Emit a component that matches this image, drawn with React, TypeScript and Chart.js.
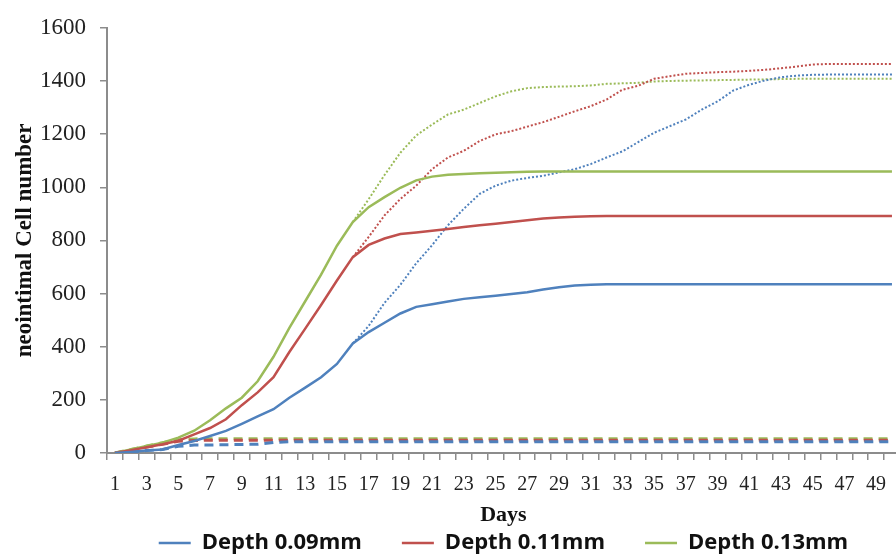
import React, { useEffect, useRef } from 'react';
import { Chart, registerables } from 'chart.js';

Chart.register(...registerables);

const days = ['1','2','3','4','5','6','7','8','9','10','11','12','13','14','15','16','17','18','19','20','21','22','23','24','25','26','27','28','29','30','31','32','33','34','35','36','37','38','39','40','41','42','43','44','45','46','47','48','49','50'];

const seriesNames = ['Depth 0.09mm', 'Depth 0.11mm', 'Depth 0.13mm'];

// solid lines
const solid009 = [0,4,9,13,30,45,64,83,110,138,165,208,246,285,335,412,455,490,525,550,560,570,580,586,592,598,605,615,624,630,633,635,635,635,635,635,635,635,635,635,635,635,635,635,635,635,635,635,635,635];
const solid011 = [0,10,22,33,46,70,94,127,180,228,285,380,468,557,649,737,783,807,824,830,836,843,850,857,863,869,876,882,886,889,891,892,892,892,892,892,892,892,892,892,892,892,892,892,892,892,892,892,892,892];
const solid013 = [0,13,26,39,58,84,123,168,208,270,362,471,571,671,780,869,925,963,998,1026,1040,1047,1050,1053,1055,1056,1058,1059,1059,1059,1059,1059,1059,1059,1059,1059,1059,1059,1059,1059,1059,1059,1059,1059,1059,1059,1059,1059,1059,1059];

// dotted lines (branch off at day 16)
const dotted009 = [null,null,null,null,null,null,null,null,null,null,null,null,null,null,null,412,478,565,633,714,782,857,919,975,1006,1025,1035,1043,1056,1068,1087,1112,1135,1170,1205,1230,1255,1292,1323,1364,1386,1402,1414,1420,1423,1424,1424,1424,1424,1424];
const dotted011 = [null,null,null,null,null,null,null,null,null,null,null,null,null,null,null,737,813,894,956,1006,1068,1112,1137,1174,1199,1211,1228,1245,1265,1286,1305,1330,1367,1382,1408,1418,1427,1430,1433,1435,1438,1442,1448,1454,1462,1464,1464,1464,1464,1464];
const dotted013 = [null,null,null,null,null,null,null,null,null,null,null,null,null,null,null,869,955,1046,1130,1195,1236,1274,1292,1317,1342,1361,1373,1377,1379,1380,1383,1389,1391,1393,1398,1400,1401,1402,1403,1404,1405,1406,1407,1408,1408,1408,1408,1408,1408,1408];

// dashed lines (low plateau)
const dashed009 = [0,4,9,13,25,30,30,31,32,33,40,42,42,42,42,42,42,42,42,42,42,42,42,42,42,42,42,42,42,42,42,42,42,42,42,42,42,42,42,42,42,42,42,42,42,42,42,42,42,42];
const dashed011 = [0,10,22,33,44,47,48,48,48,48,48,48,48,48,48,48,48,48,48,48,48,48,48,48,48,48,48,48,48,48,48,48,48,48,48,48,48,48,48,48,48,48,48,48,48,48,48,48,48,48];
const dashed013 = [0,13,26,39,50,53,54,54,54,54,54,54,54,54,54,54,54,54,54,54,54,54,54,54,54,54,54,54,54,54,54,54,54,54,54,54,54,54,54,54,54,54,54,54,54,54,54,54,54,54];

const yMin = 0;
const yMax = 1600;
const yStep = 200;

export default function App() {
  const ref = useRef<HTMLCanvasElement>(null);

  useEffect(() => {
    if (!ref.current) return;
    const blue = '#4F81BD';
    const red = '#C0504D';
    const green = '#9BBB59';
    const axisGray = '#8c8c8c';
    const mk = (label: string, data: (number | null)[], color: string, kind: string) => ({
      label,
      data,
      borderColor: color,
      backgroundColor: color,
      borderWidth: kind === 'solid' ? 2.5 : kind === 'dot' ? 2 : 3,
      borderDash: kind === 'dot' ? [2, 2] : kind === 'dash' ? [9, 6] : [],
      pointRadius: 0,
      pointHoverRadius: 0,
      tension: 0,
      fill: false,
      spanGaps: false,
    });

    const chart = new Chart(ref.current, {
      type: 'line',
      data: {
        labels: days,
        datasets: [
          mk(seriesNames[0], solid009, blue, 'solid'),
          mk(seriesNames[1], solid011, red, 'solid'),
          mk(seriesNames[2], solid013, green, 'solid'),
          mk(seriesNames[0] + ' (dotted)', dotted009, blue, 'dot'),
          mk(seriesNames[1] + ' (dotted)', dotted011, red, 'dot'),
          mk(seriesNames[2] + ' (dotted)', dotted013, green, 'dot'),
          mk(seriesNames[0] + ' (dashed)', dashed009, blue, 'dash'),
          mk(seriesNames[1] + ' (dashed)', dashed011, red, 'dash'),
          mk(seriesNames[2] + ' (dashed)', dashed013, green, 'dash'),
        ],
      },
      options: {
        responsive: false,
        animation: false,
        devicePixelRatio: 1,
        events: [],
        layout: { padding: { top: 24, left: 0, right: 4, bottom: 0 } },
        plugins: {
          legend: {
            position: 'bottom',
            fullSize: false,
            labels: {
              filter: (item: any) => item.datasetIndex < 3,
              usePointStyle: true,
              pointStyle: 'line',
              pointStyleWidth: 32,
              padding: 40,
              color: '#111',
              font: { family: '"Open Sans", sans-serif', size: 22, weight: 'bold' },
            },
          },
          tooltip: { enabled: false },
        },
        scales: {
          x: {
            type: 'category',
            offset: true,
            grid: { display: true, drawOnChartArea: false, drawTicks: true, tickLength: 7, offset: true, color: axisGray, lineWidth: 1.5 },
            border: { display: true, color: axisGray, width: 2 },
            ticks: {
              autoSkip: false,
              maxRotation: 0,
              minRotation: 0,
              padding: 13,
              color: '#222',
              font: { family: '"Liberation Serif", serif', size: 20 },
              callback: (_v: any, i: number) => (i % 2 === 0 ? days[i] : ''),
            },
            title: {
              display: true,
              text: 'Days',
              color: '#111',
              font: { family: '"Liberation Serif", serif', size: 22, weight: 'bold' },
              padding: { top: 0, bottom: -37 },
            },
            afterFit: (s: any) => { s.height = 39; },
          },
          y: {
            min: yMin,
            max: yMax,
            grid: { display: true, drawOnChartArea: false, drawTicks: true, tickLength: 7, color: axisGray, lineWidth: 1.5 },
            border: { display: true, color: axisGray, width: 2 },
            ticks: {
              stepSize: yStep,
              padding: 14,
              color: '#222',
              font: { family: '"Liberation Serif", serif', size: 23 },
              callback: (v: any) => String(v),
            },
            title: {
              display: true,
              text: 'neointimal Cell number',
              color: '#111',
              font: { family: '"Liberation Serif", serif', size: 23, weight: 'bold' },
              padding: { top: 11, bottom: 0 },
            },
            afterFit: (s: any) => { s.width = 107; },
          },
        },
      },
    } as any);
    return () => chart.destroy();
  }, []);

  return (
    <div style={{ position: 'fixed', left: 0, top: 0, width: 896, height: 554, overflow: 'hidden', background: '#fff' }}>
      <canvas ref={ref} width={905} height={564} style={{ display: 'block', width: 905, height: 564 }} />
    </div>
  );
}
